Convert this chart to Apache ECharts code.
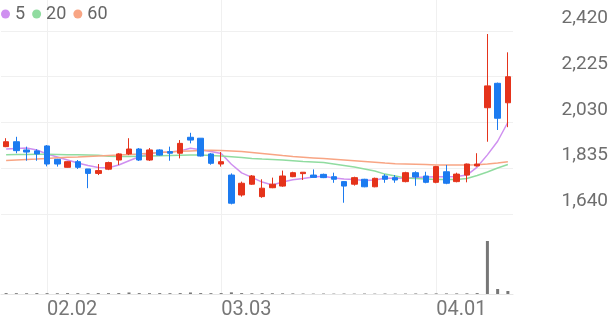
<!DOCTYPE html>
<html><head><meta charset="utf-8">
<script src="https://cdn.jsdelivr.net/npm/echarts@6/dist/echarts.min.js"></script>
<style>html,body{margin:0;padding:0;background:#fff}#c{width:616px;height:321px}</style>
</head><body><div id="c"></div>
<script>
const dates = ['01.27','01.28','01.29','01.30','02.02','02.03','02.04','02.05','02.06','02.09','02.10','02.11','02.12','02.13','02.19','02.20','02.23','02.24','02.25','02.26','02.27','03.03','03.04','03.05','03.06','03.09','03.10','03.11','03.12','03.13','03.16','03.17','03.18','03.19','03.20','03.23','03.24','03.25','03.26','03.27','03.30','03.31','04.01','04.02','04.03','04.06','04.07','04.08','04.09','04.10'];
const openV  = [1927,1948,1913,1909,1930,1873,1839,1863,1832,1813,1831,1870,1896,1917,1870,1913,1906,1899,1967,1963,1896,1853,1806,1721,1767,1714,1752,1759,1799,1812,1806,1809,1799,1778,1767,1788,1756,1802,1795,1778,1816,1802,1775,1820,1778,1806,1845,2093,2197,2114];
const closeV = [1948,1910,1904,1896,1853,1853,1863,1839,1813,1825,1859,1896,1917,1870,1913,1891,1899,1941,1955,1887,1856,1863,1686,1771,1802,1750,1767,1802,1816,1818,1796,1795,1788,1759,1795,1756,1792,1788,1785,1816,1798,1775,1842,1771,1810,1853,1853,2186,2048,2225];
const lowV   = [1925,1899,1867,1867,1843,1842,1838,1832,1750,1806,1827,1849,1891,1866,1866,1889,1867,1877,1941,1885,1850,1842,1681,1714,1764,1709,1750,1756,1797,1785,1796,1793,1773,1688,1761,1754,1754,1773,1773,1775,1760,1771,1771,1767,1775,1775,1842,1948,1998,2010];
const highV  = [1963,1969,1927,1916,1934,1875,1865,1870,1832,1853,1863,1899,1963,1921,1921,1916,1927,1955,1986,1963,1900,1904,1813,1778,1806,1788,1795,1825,1820,1818,1830,1812,1816,1780,1799,1790,1795,1810,1806,1820,1822,1820,1845,1849,1816,1855,1899,2407,2200,2329];
const ma5  = [1917,1919,1921,1913,1896,1883,1870,1857,1847,1838,1837,1849,1867,1884,1897,1903,1904,1909,1920,1914,1906,1898,1852,1815,1796,1776,1764,1776,1786,1791,1798,1801,1793,1789,1787,1783,1785,1792,1792,1792,1796,1798,1799,1799,1800,1806,1840,1892,1950,2031];
const ma20 = [1893,1894,1894,1895,1895,1894,1893,1892,1891,1890,1886,1885,1885,1886,1887,1888,1889,1890,1891,1891,1889,1887,1884,1881,1877,1874,1872,1870,1867,1864,1862,1859,1853,1847,1840,1832,1823,1810,1802,1793,1791,1789,1787,1787,1787,1791,1804,1819,1836,1851];
const ma60 = [1868,1870,1872,1874,1877,1880,1882,1883,1885,1887,1889,1891,1894,1896,1899,1902,1904,1907,1909,1911,1912,1911,1909,1906,1902,1898,1894,1889,1885,1882,1879,1876,1873,1870,1867,1864,1861,1857,1854,1853,1852,1851,1849,1849,1849,1849,1850,1853,1857,1863];
const volume = [60,55,50,60,55,50,60,55,50,60,55,60,100,60,55,60,55,60,100,60,55,60,110,60,50,55,50,45,40,30,25,30,25,30,25,30,25,30,25,30,35,40,40,40,40,45,60,3500,330,200];
const yTicks = [1640,1835,2030,2225,2420];
const xLabelDates = ['02.02','03.03','04.01'];
const legendNames = ['5','20','60'];

const UP = '#e5331b', DOWN = '#1c7bf0';
const candleData = dates.map((d,i)=>[openV[i], closeV[i], lowV[i], highV[i]]);
const showDate = (idx, val) => xLabelDates.indexOf(val) >= 0;
const gridColor = '#f0f0f0';
const FONT = 'Roboto';

const chart = echarts.init(document.getElementById('c'), null, {renderer:'canvas'});
chart.setOption({
  animation: false,
  backgroundColor: '#fff',
  legend: {
    data: legendNames, left: 1, top: 5, padding: 0, icon: 'circle',
    itemWidth: 9, itemHeight: 9, itemGap: 7,
    textStyle: {fontFamily: FONT, fontSize: 18, color: '#666', padding: [0,0,0,0]}
  },
  grid: [
    {left: 1, right: 103, top: 0, height: 214},
    {left: 1, right: 103, top: 215, bottom: 27}
  ],
  xAxis: [
    {type: 'category', data: dates, gridIndex: 0, boundaryGap: true,
     axisLine: {show: false}, axisTick: {show: false}, axisLabel: {show: false},
     splitLine: {show: true, interval: showDate, alignWithLabel: true, lineStyle: {color: gridColor, width: 1}}},
    {type: 'category', data: dates, gridIndex: 1, boundaryGap: true,
     axisLine: {show: true, lineStyle: {color: '#e6e6e6', width: 1}}, axisTick: {show: false},
     axisLabel: {show: true, interval: showDate, align: 'left', margin: 6, fontFamily: FONT, fontSize: 20, color: '#777'},
     splitLine: {show: true, interval: showDate, alignWithLabel: true, lineStyle: {color: gridColor, width: 1}}}
  ],
  yAxis: [
    {type: 'value', gridIndex: 0, position: 'right', min: 1640, max: 2552, interval: 195,
     axisLine: {show: false}, axisTick: {show: false},
     axisLabel: {show: true, inside: false, margin: 95, align: 'right', verticalAlign: 'bottom',
       padding: [0,0,3,0], fontFamily: FONT, fontSize: 19, color: '#6e6e6e',
       formatter: v => yTicks.indexOf(v) >= 0 ? v.toLocaleString('en-US') : ''},
     splitLine: {show: true, lineStyle: {color: [gridColor,gridColor,gridColor,gridColor,gridColor,'rgba(0,0,0,0)'], width: 1}}},
    {type: 'value', gridIndex: 1, show: false, min: 0, max: v => v.max * 1.49,
     splitLine: {show: false}}
  ],
  series: [
    {name: legendNames[0], type: 'line', data: ma5, xAxisIndex: 0, yAxisIndex: 0, symbol: 'none',
     color: '#cf90f0', lineStyle: {width: 1.5, color: '#cf90f0'}, z: 2},
    {name: legendNames[1], type: 'line', data: ma20, xAxisIndex: 0, yAxisIndex: 0, symbol: 'none',
     color: '#90dca0', lineStyle: {width: 1.5, color: '#90dca0'}, z: 2},
    {name: legendNames[2], type: 'line', data: ma60, xAxisIndex: 0, yAxisIndex: 0, symbol: 'none',
     color: '#f8a584', lineStyle: {width: 1.5, color: '#f8a584'}, z: 2},
    {name: 'price', type: 'candlestick', data: candleData, xAxisIndex: 0, yAxisIndex: 0, barWidth: 6, z: 3,
     itemStyle: {color: UP, color0: DOWN, borderColor: UP, borderColor0: DOWN, borderWidth: 1}},
    {name: 'vol', type: 'bar', data: volume, xAxisIndex: 1, yAxisIndex: 1, barWidth: 3,
     itemStyle: {color: '#777'}}
  ]
});
</script></body></html>
